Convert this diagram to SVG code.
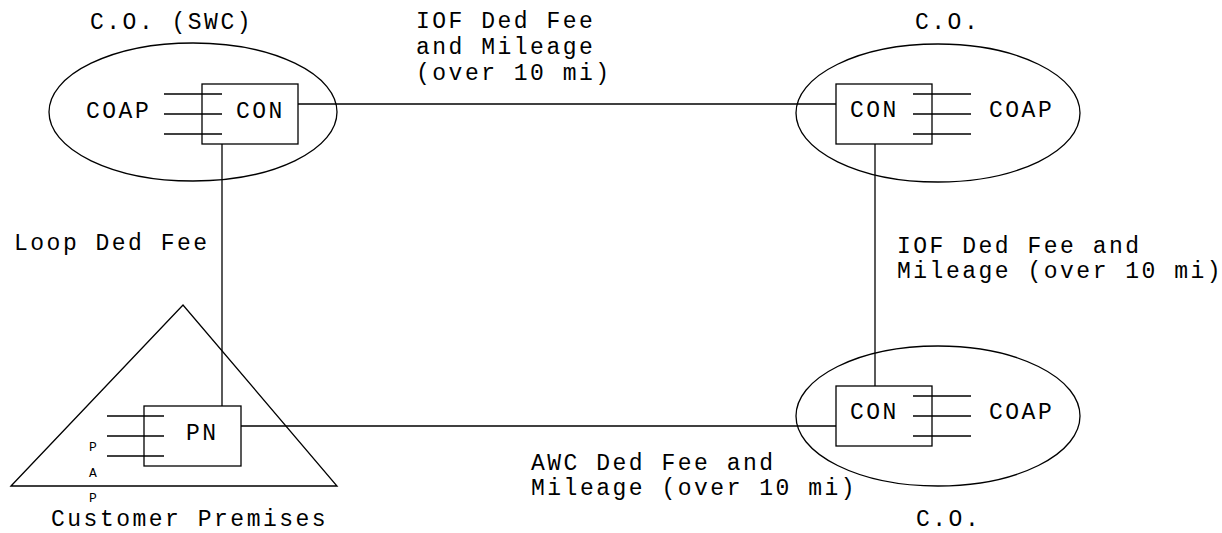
<svg xmlns="http://www.w3.org/2000/svg" width="1222" height="533" viewBox="0 0 1222 533">
<style>
.s{fill:none;stroke:#000;stroke-width:1.3}
text{font-family:"Liberation Mono","Courier New",monospace;font-size:23px;letter-spacing:2.5px;fill:#000}
.sm{font-size:13px;letter-spacing:0}
</style>
<rect width="1222" height="533" fill="#fff"/>
<g id="connectors">
<line class="s" x1="298" y1="104" x2="836" y2="104"/>
<line class="s" x1="222" y1="144" x2="222" y2="406"/>
<line class="s" x1="875" y1="144" x2="875" y2="386"/>
<line class="s" x1="241" y1="426" x2="836" y2="426"/>
</g>
<g id="co-swc">
<ellipse class="s" cx="193" cy="112" rx="144" ry="69"/>
<rect class="s" x="202" y="84" width="96" height="60"/>
<line class="s" x1="164" y1="94" x2="222" y2="94"/>
<line class="s" x1="164" y1="114" x2="222" y2="114"/>
<line class="s" x1="164" y1="134" x2="222" y2="134"/>
<text x="86" y="118">COAP</text>
<text x="236" y="118">CON</text>
<text x="90" y="29">C.O. (SWC)</text>
</g>
<g id="co-top-right">
<ellipse class="s" cx="938" cy="113" rx="142" ry="69"/>
<rect class="s" x="836" y="84" width="96" height="60"/>
<line class="s" x1="913" y1="94" x2="971" y2="94"/>
<line class="s" x1="913" y1="114" x2="971" y2="114"/>
<line class="s" x1="913" y1="134" x2="971" y2="134"/>
<text x="850" y="117">CON</text>
<text x="989" y="117">COAP</text>
<text x="915" y="29">C.O.</text>
</g>
<g id="co-bottom-right">
<ellipse class="s" cx="938" cy="416" rx="142" ry="70"/>
<rect class="s" x="836" y="386" width="96" height="60"/>
<line class="s" x1="913" y1="396" x2="971" y2="396"/>
<line class="s" x1="913" y1="416" x2="971" y2="416"/>
<line class="s" x1="913" y1="436" x2="971" y2="436"/>
<text x="850" y="419">CON</text>
<text x="989" y="419">COAP</text>
<text x="916" y="526">C.O.</text>
</g>
<g id="customer-premises">
<polygon class="s" points="11,486 183,305 337,486"/>
<rect class="s" x="144" y="406" width="97" height="60"/>
<line class="s" x1="107" y1="416" x2="164" y2="416"/>
<line class="s" x1="107" y1="436" x2="164" y2="436"/>
<line class="s" x1="107" y1="456" x2="164" y2="456"/>
<text x="186" y="440">PN</text>
<text class="sm" x="89" y="451">P</text>
<text class="sm" x="89" y="477">A</text>
<text class="sm" x="89" y="502">P</text>
<text x="51" y="526">Customer Premises</text>
</g>
<g id="labels">
<text x="416" y="28">IOF Ded Fee</text>
<text x="416" y="54">and Mileage</text>
<text x="416" y="80">(over 10 mi)</text>
<text x="14" y="250">Loop Ded Fee</text>
<text x="897" y="253">IOF Ded Fee and</text>
<text x="897" y="278">Mileage (over 10 mi)</text>
<text x="531" y="470">AWC Ded Fee and</text>
<text x="531" y="495">Mileage (over 10 mi)</text>
</g>
</svg>
